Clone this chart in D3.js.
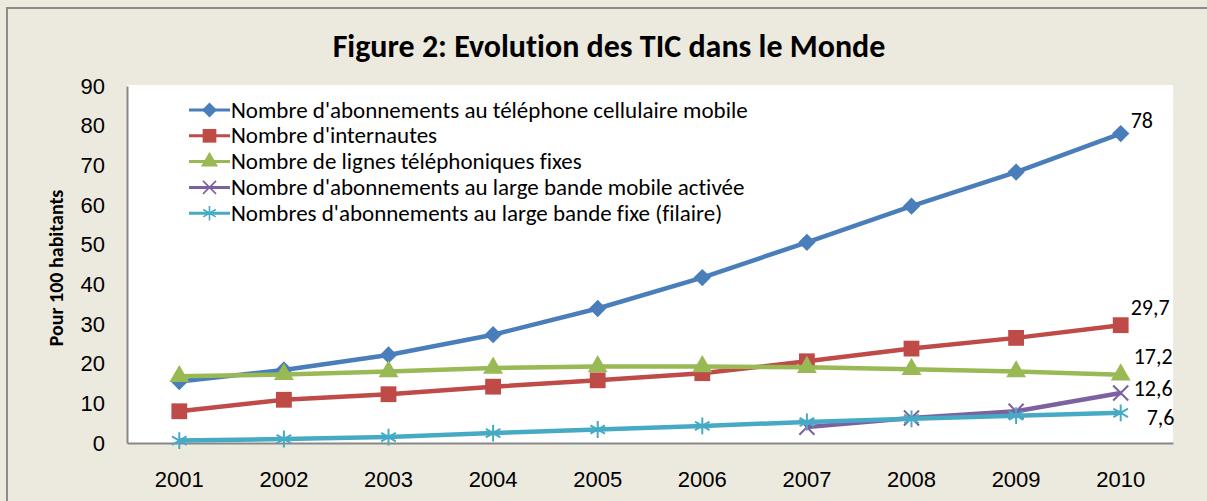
<!DOCTYPE html>
<html>
<head>
<meta charset="utf-8">
<script src="https://cdn.jsdelivr.net/npm/d3@7"></script>
<style>
  html, body { margin: 0; padding: 0; background: #ece9df; }
  svg { display: block; font-family: Calibri, Carlito, "Open Sans", sans-serif; font-variant-ligatures: none; }
</style>
</head>
<body>
<svg id="chart" width="1207" height="501"></svg>
<script>
// data
const years = ['2001', '2002', '2003', '2004', '2005', '2006', '2007', '2008', '2009', '2010'];
const mobile = [15.5, 18.4, 22.2, 27.3, 33.9, 41.7, 50.6, 59.7, 68.3, 78];
const internet = [8.0, 10.9, 12.3, 14.2, 15.8, 17.6, 20.6, 23.8, 26.5, 29.7];
const fixedLines = [16.8, 17.3, 18.0, 18.9, 19.3, 19.3, 19.1, 18.6, 18.0, 17.2];
const mobileBroadband = [null, null, null, null, null, null, 4.0, 6.3, 8.0, 12.6];
const fixedBroadband = [0.6, 1.0, 1.5, 2.5, 3.4, 4.3, 5.3, 6.1, 6.9, 7.6];
const seriesNames = [
  "Nombre d'abonnements au téléphone cellulaire mobile",
  "Nombre d'internautes",
  "Nombre de lignes téléphoniques fixes",
  "Nombre d'abonnements au large bande mobile activée",
  "Nombres d'abonnements au large bande fixe (filaire)"
];
const endLabels = ['78', '29,7', '17,2', '12,6', '7,6'];
const yTicks = [0, 10, 20, 30, 40, 50, 60, 70, 80, 90];

// excel-like diamond: a square turned by 45 degrees
const diamond = {
  draw(ctx, size) {
    const r = Math.sqrt(size / 2);
    ctx.moveTo(0, -r); ctx.lineTo(r, 0); ctx.lineTo(0, r); ctx.lineTo(-r, 0); ctx.closePath();
  }
};

const series = [
  { name: seriesNames[0], values: mobile, color: '#4a7ebb', symbol: diamond, size: 150, filled: true, label: endLabels[0], dx: 10, dy: -6 },
  { name: seriesNames[1], values: internet, color: '#be4b48', symbol: d3.symbolSquare, size: 250, filled: true, label: endLabels[1], dx: 10, dy: -10 },
  { name: seriesNames[2], values: fixedLines, color: '#98b954', symbol: d3.symbolTriangle, size: 170, filled: true, label: endLabels[2], dx: 13, dy: -11 },
  { name: seriesNames[3], values: mobileBroadband, color: '#7d60a0', symbol: d3.symbolX, size: 150, filled: false, label: endLabels[3], dx: 13, dy: 3 },
  { name: seriesNames[4], values: fixedBroadband, color: '#46aac5', symbol: d3.symbolAsterisk, size: 200, filled: false, label: endLabels[4], dx: 26, dy: 12 }
];

const svg = d3.select('#chart');
const W = 1207, H = 501;
const plot = { left: 127, right: 1173, top: 85, bottom: 443 };

// outer frame
svg.append('rect').attr('x', 0).attr('y', 0).attr('width', W).attr('height', H).attr('fill', '#ece9df');
svg.append('path')
  .attr('d', `M7,${H} V8 H${W}`)
  .attr('fill', 'none').attr('stroke', '#8c8c8c').attr('stroke-width', 2);

// plot area
svg.append('rect')
  .attr('x', plot.left).attr('y', plot.top)
  .attr('width', plot.right - plot.left).attr('height', plot.bottom - plot.top)
  .attr('fill', '#ffffff');

const x = d3.scaleBand().domain(years).range([plot.left, plot.right]);
const y = d3.scaleLinear().domain([0, 90]).range([plot.bottom, plot.top + 1]);
const cx = d => x(d) + x.bandwidth() / 2;

// title
svg.append('text')
  .attr('x', 609).attr('y', 57)
  .attr('text-anchor', 'middle')
  .style('font-size', '32px').style('font-weight', 'bold')
  .text('Figure 2: Evolution des TIC dans le Monde');

// y axis
const yAxis = svg.append('g')
  .attr('transform', `translate(${plot.left},0)`)
  .call(d3.axisLeft(y).tickValues(yTicks).tickSize(0).tickPadding(22));
yAxis.select('.domain').attr('stroke', '#888888').attr('stroke-width', 2);
yAxis.selectAll('text').style('font-size', '22px').style('font-family', 'inherit').attr('fill', '#000');

// x axis
const xAxis = svg.append('g')
  .attr('transform', `translate(0,${plot.bottom})`)
  .call(d3.axisBottom(x).tickSize(0).tickPadding(28));
xAxis.select('.domain').attr('stroke', '#888888').attr('stroke-width', 2);
xAxis.selectAll('text').style('font-size', '22px').style('font-family', 'inherit').attr('fill', '#000');

// y axis title
svg.append('text')
  .attr('transform', `translate(63,268) rotate(-90)`)
  .attr('text-anchor', 'middle')
  .style('font-size', '20px').style('font-weight', 'bold')
  .text('Pour 100 habitants');

// lines and markers
const line = d3.line()
  .defined(d => d.v !== null)
  .x(d => cx(d.year))
  .y(d => y(d.v));

series.forEach(s => {
  const pts = years.map((yr, i) => ({ year: yr, v: s.values[i] }));
  svg.append('path')
    .datum(pts)
    .attr('d', line)
    .attr('fill', 'none')
    .attr('stroke', s.color)
    .attr('stroke-width', 4.5)
    .attr('stroke-linejoin', 'round');

  svg.selectAll(null)
    .data(pts.filter(d => d.v !== null))
    .enter()
    .append('path')
    .attr('transform', d => `translate(${cx(d.year)},${y(d.v)})`)
    .attr('d', d3.symbol().type(s.symbol).size(s.size))
    .attr('fill', s.filled ? s.color : 'none')
    .attr('stroke', s.color)
    .attr('stroke-width', s.filled ? 0 : 2);

  const last = pts[pts.length - 1];
  svg.append('text')
    .attr('x', cx(last.year) + s.dx)
    .attr('y', y(last.v) + s.dy)
    .style('font-size', '22px')
    .text(s.label);
});

// legend
const legend = svg.append('g').attr('transform', 'translate(189,110)');
series.forEach((s, i) => {
  const g = legend.append('g').attr('transform', `translate(0,${i * 25.8})`);
  g.append('line')
    .attr('x1', 0).attr('x2', 41).attr('y1', 0).attr('y2', 0)
    .attr('stroke', s.color).attr('stroke-width', 3);
  g.append('path')
    .attr('transform', 'translate(20.5,0)')
    .attr('d', d3.symbol().type(s.symbol).size(s.size * 0.75))
    .attr('fill', s.filled ? s.color : 'none')
    .attr('stroke', s.color)
    .attr('stroke-width', s.filled ? 0 : 1.6);
  g.append('text')
    .attr('x', 42).attr('y', 7.5)
    .style('font-size', '23px')
    .text(s.name);
});
</script>
</body>
</html>
